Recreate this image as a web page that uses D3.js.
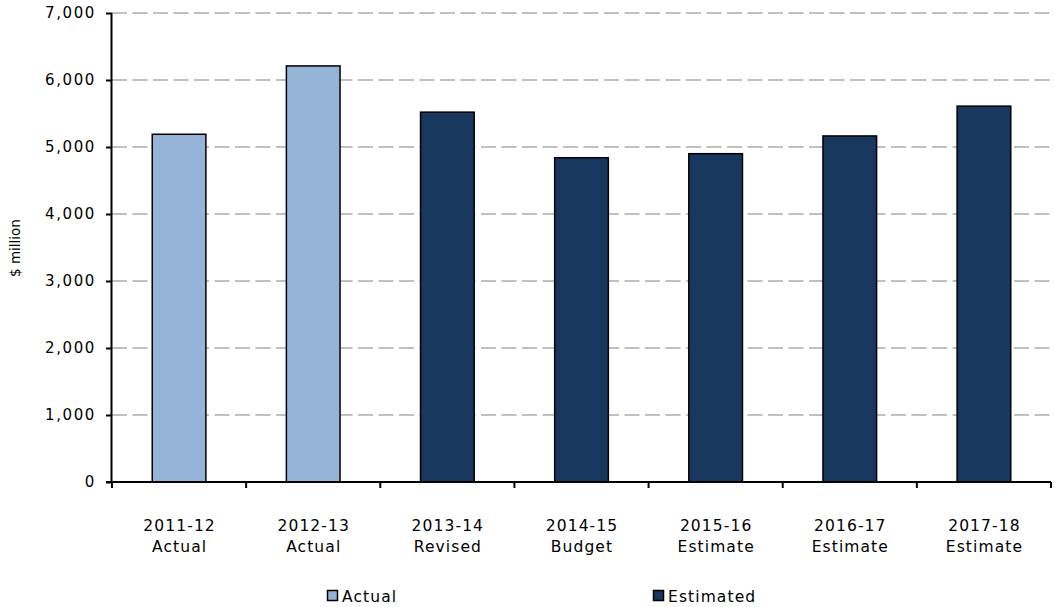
<!DOCTYPE html>
<html><head><meta charset="utf-8">
<script src="https://cdn.jsdelivr.net/npm/d3@7"></script>
<style>body{margin:0;background:#fff}svg{display:block}text{font-family:"DejaVu Sans",sans-serif;fill:#000}</style>
</head><body><svg id="c" width="1054" height="607"></svg>
<script>
const years = ["2011-12","2012-13","2013-14","2014-15","2015-16","2016-17","2017-18"];
const kinds = ["Actual","Actual","Revised","Budget","Estimate","Estimate","Estimate"];
const series = ["Actual","Actual","Estimated","Estimated","Estimated","Estimated","Estimated"];
const values = [5190, 6210, 5520, 4840, 4900, 5165, 5610];
const yTicks = [0,1000,2000,3000,4000,5000,6000,7000];
const legendNames = ["Actual","Estimated"];
const colors = {Actual:"#95b3d7", Estimated:"#17375e"};

const svg = d3.select("#c");
const L=112, R=1051, T=13, B=482;
const x = d3.scaleBand().domain(years).range([L,R]).paddingInner(0.6).paddingOuter(0.3);
const y = d3.scaleLinear().domain([0,7000]).range([B,T]);
const step = x.step();

// gridlines
svg.append("g").selectAll("line").data(yTicks.filter(d=>d>0)).join("line")
  .attr("x1",L).attr("x2",R).attr("y1",d=>y(d)).attr("y2",d=>y(d))
  .attr("stroke","#c0c0c0").attr("stroke-width",2).attr("stroke-dasharray","15,5.5");

// bars
svg.append("g").selectAll("rect").data(years).join("rect")
  .attr("x",(d)=>x(d)).attr("width",x.bandwidth())
  .attr("y",(d,i)=>y(values[i])).attr("height",(d,i)=>B-y(values[i]))
  .attr("fill",(d,i)=>colors[series[i]]).attr("stroke","#000").attr("stroke-width",1.5);

// y axis
const ya = svg.append("g").attr("transform",`translate(${L},0)`)
  .call(d3.axisLeft(y).tickValues(yTicks).tickFormat(d3.format(",")).tickSize(6).tickPadding(10));
ya.select(".domain").attr("stroke","#000").attr("stroke-width",2).attr("d",`M-0.5,${T}V${B}`);
ya.selectAll(".tick line").attr("stroke","#000").attr("stroke-width",2);
ya.selectAll(".tick text").attr("font-size","15px").attr("letter-spacing","1.6px")
  .attr("font-family","DejaVu Sans").attr("fill","#000");

// x axis line + ticks at category boundaries
svg.append("line").attr("x1",L-6).attr("x2",R).attr("y1",B).attr("y2",B).attr("stroke","#000").attr("stroke-width",2);
const bounds = d3.range(years.length+1).map(i=>L+i*step);
svg.append("g").selectAll("line").data(bounds).join("line")
  .attr("x1",d=>d).attr("x2",d=>d).attr("y1",B).attr("y2",B+6).attr("stroke","#000").attr("stroke-width",2);

// x labels
const xl = svg.append("g").selectAll("text").data(years).join("text")
  .attr("text-anchor","middle").attr("font-size","15.5px").attr("letter-spacing","1.1px")
  .attr("transform",d=>`translate(${x(d)+x.bandwidth()/2+0.5},0)`);
xl.append("tspan").attr("x",0).attr("y",531).text(d=>d);
xl.append("tspan").attr("x",0).attr("y",552).text((d,i)=>kinds[i]);

// y label
svg.append("text").attr("transform","translate(19.5,248) rotate(-90)").attr("text-anchor","middle")
  .attr("font-size","13.5px").text("$ million");

// legend
const lg = svg.append("g").selectAll("g").data(legendNames).join("g")
  .attr("transform",(d,i)=>`translate(${i===0?327:653},590)`);
lg.append("rect").attr("x",0.5).attr("y",0.5).attr("width",10).attr("height",10)
  .attr("fill",d=>colors[d]).attr("stroke","#000").attr("stroke-width",1.5);
lg.append("text").attr("x",15).attr("y",11.5).attr("font-size","15.5px").attr("letter-spacing","1.1px").text(d=>d);
</script></body></html>
